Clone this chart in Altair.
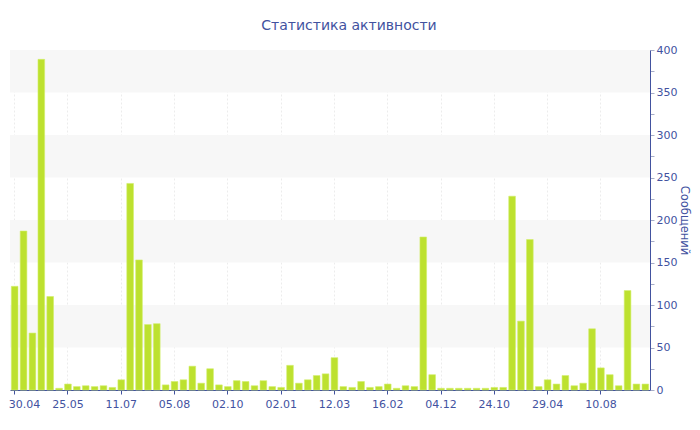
import altair as alt
import pandas as pd

title_text = "Статистика активности"
y_title = "Сообщений"

values = [122, 187, 67, 389, 110, 2, 7, 4, 5, 4,
          5, 3, 12, 243, 153, 77, 78, 6, 10, 12,
          28, 8, 25, 6, 4, 11, 10, 5, 11, 4,
          3, 29, 8, 12, 17, 19, 38, 4, 3, 10,
          3, 4, 7, 2, 5, 4, 180, 18, 2, 2,
          2, 2, 2, 2, 3, 3, 228, 81, 177, 4,
          12, 7, 17, 5, 8, 72, 26, 18, 5, 117,
          7, 7]

tick_labels = ["30.04", "25.05", "11.07", "05.08", "02.10", "02.01",
               "12.03", "16.02", "04.12", "24.10", "29.04", "10.08"]
tick_every = 6

band_lo = [50, 150, 250, 350]
band_hi = [100, 200, 300, 400]

y_major = [0, 50, 100, 150, 200, 250, 300, 350, 400]
y_minor = [25, 75, 125, 175, 225, 275, 325, 375]

BLUE = "#42529f"
FONT = "DejaVu Sans"

df = pd.DataFrame({"i": list(range(len(values))), "v": values})
bands = pd.DataFrame({"lo": band_lo, "hi": band_hi})

label_arr = "[" + ",".join("'" + t + "'" for t in tick_labels) + "]"
tick_vals = [k * tick_every for k in range(len(tick_labels))]

yscale = alt.Scale(domain=[0, 400], nice=False)

band_layer = alt.Chart(bands).mark_rect(color="#f7f7f7").encode(
    x=alt.value(0),
    x2=alt.value("width"),
    y=alt.Y("lo:Q", scale=yscale,
            axis=alt.Axis(orient="right", values=y_minor, labels=False,
                          domain=False, grid=False, ticks=True, tickSize=4,
                          tickColor="#a8aec8", title=None)),
    y2="hi:Q",
)

bar_layer = alt.Chart(df).mark_bar(color="#bde12f", stroke="#d2ee6a",
                                   strokeWidth=0.6).encode(
    x=alt.X("i:O",
            scale=alt.Scale(paddingInner=0.25, paddingOuter=0.15),
            axis=alt.Axis(values=tick_vals,
                          labelExpr=label_arr + "[datum.value/" + str(tick_every) + "]",
                          labelAngle=0, labelColor=BLUE, labelFont=FONT,
                          labelFontSize=11, labelPadding=4,
                          labelAlign=alt.expr("datum.value == 0 ? 'left' : 'center'"),
                          labelOffset=alt.expr("datum.value == 0 ? -6 : 0"),
                          domainColor=BLUE, tickColor=BLUE, tickSize=4,
                          grid=True, gridColor="#ececec", gridDash=[2, 2],
                          title=None)),
    y=alt.Y("v:Q", scale=yscale,
            axis=alt.Axis(orient="right", values=y_major, labelColor=BLUE,
                          labelFont=FONT, labelFontSize=11, labelPadding=2,
                          domainColor=BLUE, tickColor="#a8aec8", tickSize=4,
                          grid=False, title=y_title, titleColor=BLUE,
                          titleFont=FONT, titleFontSize=11.5,
                          titleFontWeight="normal", titleAngle=90,
                          titlePadding=2)),
)

chart = alt.layer(band_layer, bar_layer).resolve_axis(y="independent").properties(
    width=640,
    height=340,
    padding={"left": 2, "top": 42, "right": 42, "bottom": 30},
    autosize=alt.AutoSizeParams(type="none"),
    title=alt.TitleParams(title_text, color=BLUE, font=FONT, fontSize=14,
                          fontWeight="normal", anchor="middle", dx=19, offset=11),
).configure_view(stroke=None)

chart.save("out.html", embed_options={"renderer": "svg", "actions": False})
